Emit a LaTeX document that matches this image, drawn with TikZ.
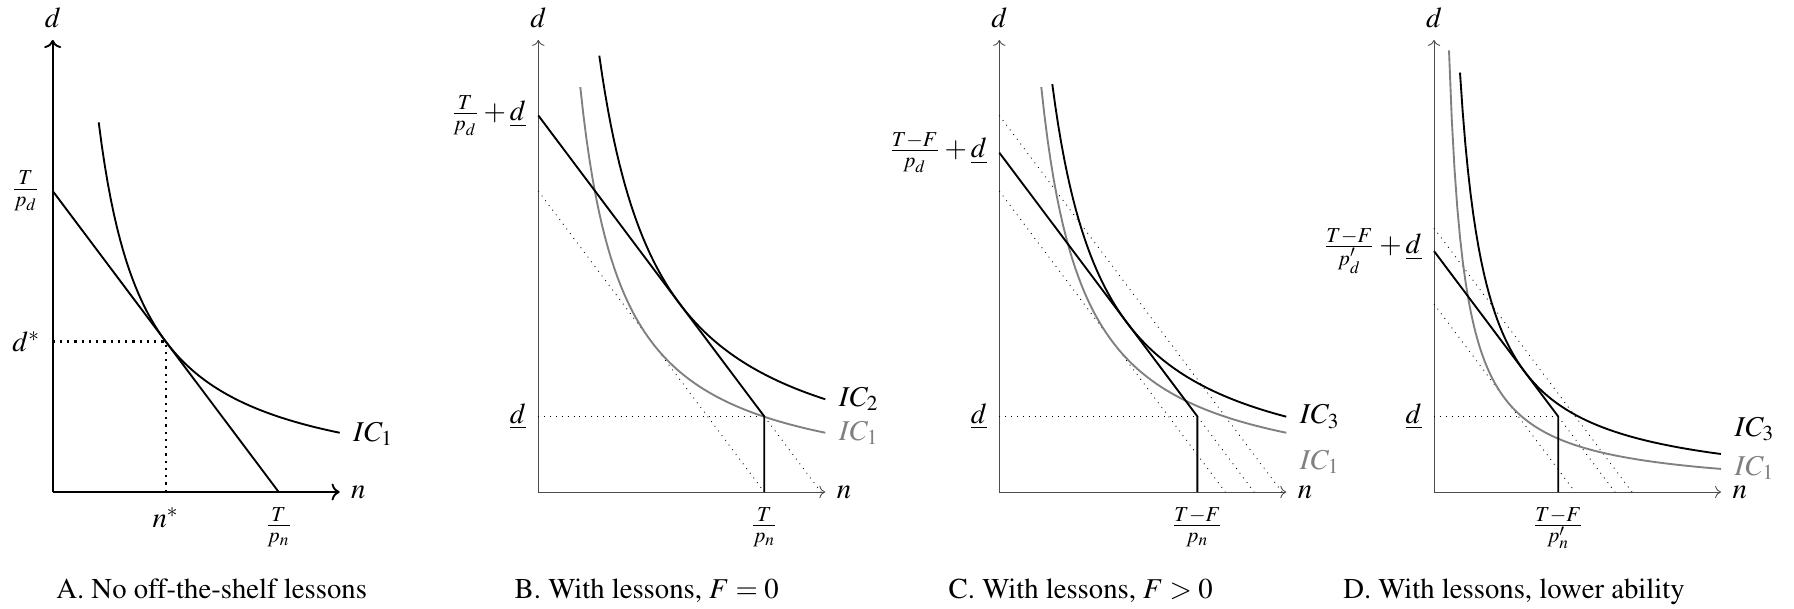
\documentclass[tikz,border=0pt]{standalone}
\usepackage[T1]{fontenc}
\usepackage{mathptmx}
\usetikzlibrary{arrows.meta,positioning}
\tikzset{
  curvebold/.style={line width=0.75pt,draw=black},
  curvegray/.style={line width=0.75pt,draw=gray},
  axisthick/.style={->,line width=0.75pt},
  axisthin/.style={->,line width=0.35pt,draw=black!70},
  guidethick/.style={dotted,line width=0.9pt},
  guidethin/.style={dotted,line width=0.35pt},
  ylabel/.style={anchor=east,inner sep=0pt},
  xlabel/.style={anchor=north,inner sep=0pt},
  toplabel/.style={anchor=south,inner sep=0pt},
  rightlabel/.style={anchor=west,inner sep=0pt},
  iclabel/.style={anchor=west,inner sep=0pt},
  captionlabel/.style={anchor=base,inner sep=0pt}
}

\begin{document}
\begin{tikzpicture}[x=0.4pt,y=0.4pt,font=\fontsize{11.5}{13.5}\selectfont]
\useasboundingbox (0,0) rectangle (1794,608);

% panel A
\begin{scope}[shift={(52.7,116)},yscale=1.162]
  \coordinate (A-o) at (0,0);
  \coordinate (A-top) at (0,389);
  \coordinate (A-right) at (287,0);
  \coordinate (A-d) at (0,259);
  \coordinate (A-n) at (226,0);
  \coordinate (A-opt) at (113,129.5);
  \draw[axisthick] (A-o) -- (A-top);
  \draw[axisthick] (A-o) -- (A-right);
  \node[toplabel] (A-dlab) at (0,399) {$d$};
  \node[rightlabel] (A-nlab) at (298,0) {$n$};
  \draw[curvebold] (A-d) -- (A-n);
  \draw[curvebold] plot[domain=46:287,samples=80] (\x,{146.34/(\x/100)});
  \draw[guidethick] (A-opt -| A-o) -- (A-opt) -- (A-opt |- A-o);
  \node[ylabel] (A-lab-d) at (-12,259) {$\frac{T}{p_d}$};
  \node[ylabel] (A-lab-dopt) at (-12,129.5) {$d^*$};
  \node[xlabel] (A-lab-nopt) at (113,-13) {$n^*$};
  \node[xlabel] (A-lab-n) at (226,-13) {$\frac{T}{p_n}$};
  \node[iclabel] (A-ic1) at (300,50) {$IC_1$};
\end{scope}

% panel B
\begin{scope}[shift={(538.3,116)},yscale=1.162]
  \coordinate (B-o) at (0,0);
  \coordinate (B-top) at (0,389);
  \coordinate (B-right) at (287,0);
  \coordinate (B-d) at (0,324);
  \coordinate (B-kink) at (226,65);
  \coordinate (B-old-d) at (0,259);
  \coordinate (B-old-n) at (226,0);
  \coordinate (B-ext) at (282.7,0);
  \draw[axisthin] (B-o) -- (B-top);
  \draw[axisthin] (B-o) -- (B-right);
  \node[toplabel] (B-dlab) at (0,399) {$d$};
  \node[rightlabel] (B-nlab) at (298,0) {$n$};
  \draw[guidethin] (B-old-d) -- (B-old-n);
  \draw[guidethin] (B-kink) -- (B-ext);
  \draw[guidethin] (B-kink -| B-o) -- (B-kink);
  \draw[curvegray] plot[domain=42:287,samples=80] (\x,{146.34/(\x/100)});
  \draw[curvebold] plot[domain=61:287,samples=80] (\x,{229.05/(\x/100)});
  \draw[curvebold] (B-d) -- (B-kink) -- (B-kink |- B-o);
  \node[ylabel] (B-lab-d) at (-12,324) {$\frac{T}{p_d}+\underline{d}$};
  \node[ylabel] (B-lab-dmin) at (-12,65) {$\underline{d}$};
  \node[xlabel] (B-lab-n) at (226,-13) {$\frac{T}{p_n}$};
  \node[iclabel] (B-ic2) at (300,80) {$IC_2$};
  \node[iclabel,gray] (B-ic1) at (300,51) {$IC_1$};
\end{scope}

% panel C
\begin{scope}[shift={(999.3,116)},yscale=1.162]
  \coordinate (C-o) at (0,0);
  \coordinate (C-top) at (0,389);
  \coordinate (C-right) at (287,0);
  \coordinate (C-d) at (0,292);
  \coordinate (C-kink) at (198.1,65);
  \coordinate (C-ext) at (254.8,0);
  \coordinate (C-f0-d) at (0,324);
  \coordinate (C-f0-n) at (282.7,0);
  \coordinate (C-old-d) at (0,259);
  \coordinate (C-old-n) at (226,0);
  \draw[axisthin] (C-o) -- (C-top);
  \draw[axisthin] (C-o) -- (C-right);
  \node[toplabel] (C-dlab) at (0,399) {$d$};
  \node[rightlabel] (C-nlab) at (298,0) {$n$};
  \draw[guidethin] (C-f0-d) -- (C-f0-n);
  \draw[guidethin] (C-old-d) -- (C-old-n);
  \draw[guidethin] (C-kink) -- (C-ext);
  \draw[guidethin] (C-kink -| C-o) -- (C-kink);
  \draw[curvegray] plot[domain=42:287,samples=80] (\x,{146.34/(\x/100)});
  \draw[curvebold] plot[domain=53:287,samples=80] (\x,{186.0/(\x/100)});
  \draw[curvebold] (C-d) -- (C-kink) -- (C-kink |- C-o);
  \node[ylabel] (C-lab-d) at (-12,292) {$\frac{T-F}{p_d}+\underline{d}$};
  \node[ylabel] (C-lab-dmin) at (-12,65) {$\underline{d}$};
  \node[xlabel] (C-lab-n) at (198.1,-13) {$\frac{T-F}{p_n}$};
  \node[iclabel] (C-ic3) at (300,65) {$IC_3$};
  \node[iclabel,gray] (C-ic1) at (300,26) {$IC_1$};
\end{scope}

% panel D
\begin{scope}[shift={(1434,116)},yscale=1.162]
  \coordinate (D-o) at (0,0);
  \coordinate (D-top) at (0,389);
  \coordinate (D-right) at (287,0);
  \coordinate (D-d) at (0,207.3);
  \coordinate (D-kink) at (124.2,65);
  \coordinate (D-ext) at (180.9,0);
  \coordinate (D-f0-d) at (0,227);
  \coordinate (D-f0-n) at (198,0);
  \coordinate (D-old-d) at (0,161.7);
  \coordinate (D-old-n) at (141.1,0);
  \draw[axisthin] (D-o) -- (D-top);
  \draw[axisthin] (D-o) -- (D-right);
  \node[toplabel] (D-dlab) at (0,399) {$d$};
  \node[rightlabel] (D-nlab) at (298,0) {$n$};
  \draw[guidethin] (D-f0-d) -- (D-f0-n);
  \draw[guidethin] (D-old-d) -- (D-old-n);
  \draw[guidethin] (D-kink) -- (D-ext);
  \draw[guidethin] (D-kink -| D-o) -- (D-kink);
  \draw[curvegray] plot[domain=15:287,samples=100] (\x,{57.0/(\x/100)});
  \draw[curvebold] plot[domain=26:287,samples=100] (\x,{93.85/(\x/100)});
  \draw[curvebold] (D-d) -- (D-kink) -- (D-kink |- D-o);
  \node[ylabel] (D-lab-d) at (-12,207.3) {$\frac{T-F}{p'_d}+\underline{d}$};
  \node[ylabel] (D-lab-dmin) at (-12,65) {$\underline{d}$};
  \node[xlabel] (D-lab-n) at (124.2,-13) {$\frac{T-F}{p'_n}$};
  \node[iclabel] (D-ic3) at (300,54) {$IC_3$};
  \node[iclabel,gray] (D-ic1) at (300,21) {$IC_1$};
\end{scope}

% captions
\node[captionlabel] (cap-A) at (211.7,10) {A. No off-the-shelf lessons};
\node[captionlabel] (cap-B) at (646.7,10) {B. With lessons, $F=0$};
\node[captionlabel] (cap-C) at (1080.7,10) {C. With lessons, $F>0$};
\node[captionlabel] (cap-D) at (1514,10) {D. With lessons, lower ability};
\end{tikzpicture}
\end{document}
